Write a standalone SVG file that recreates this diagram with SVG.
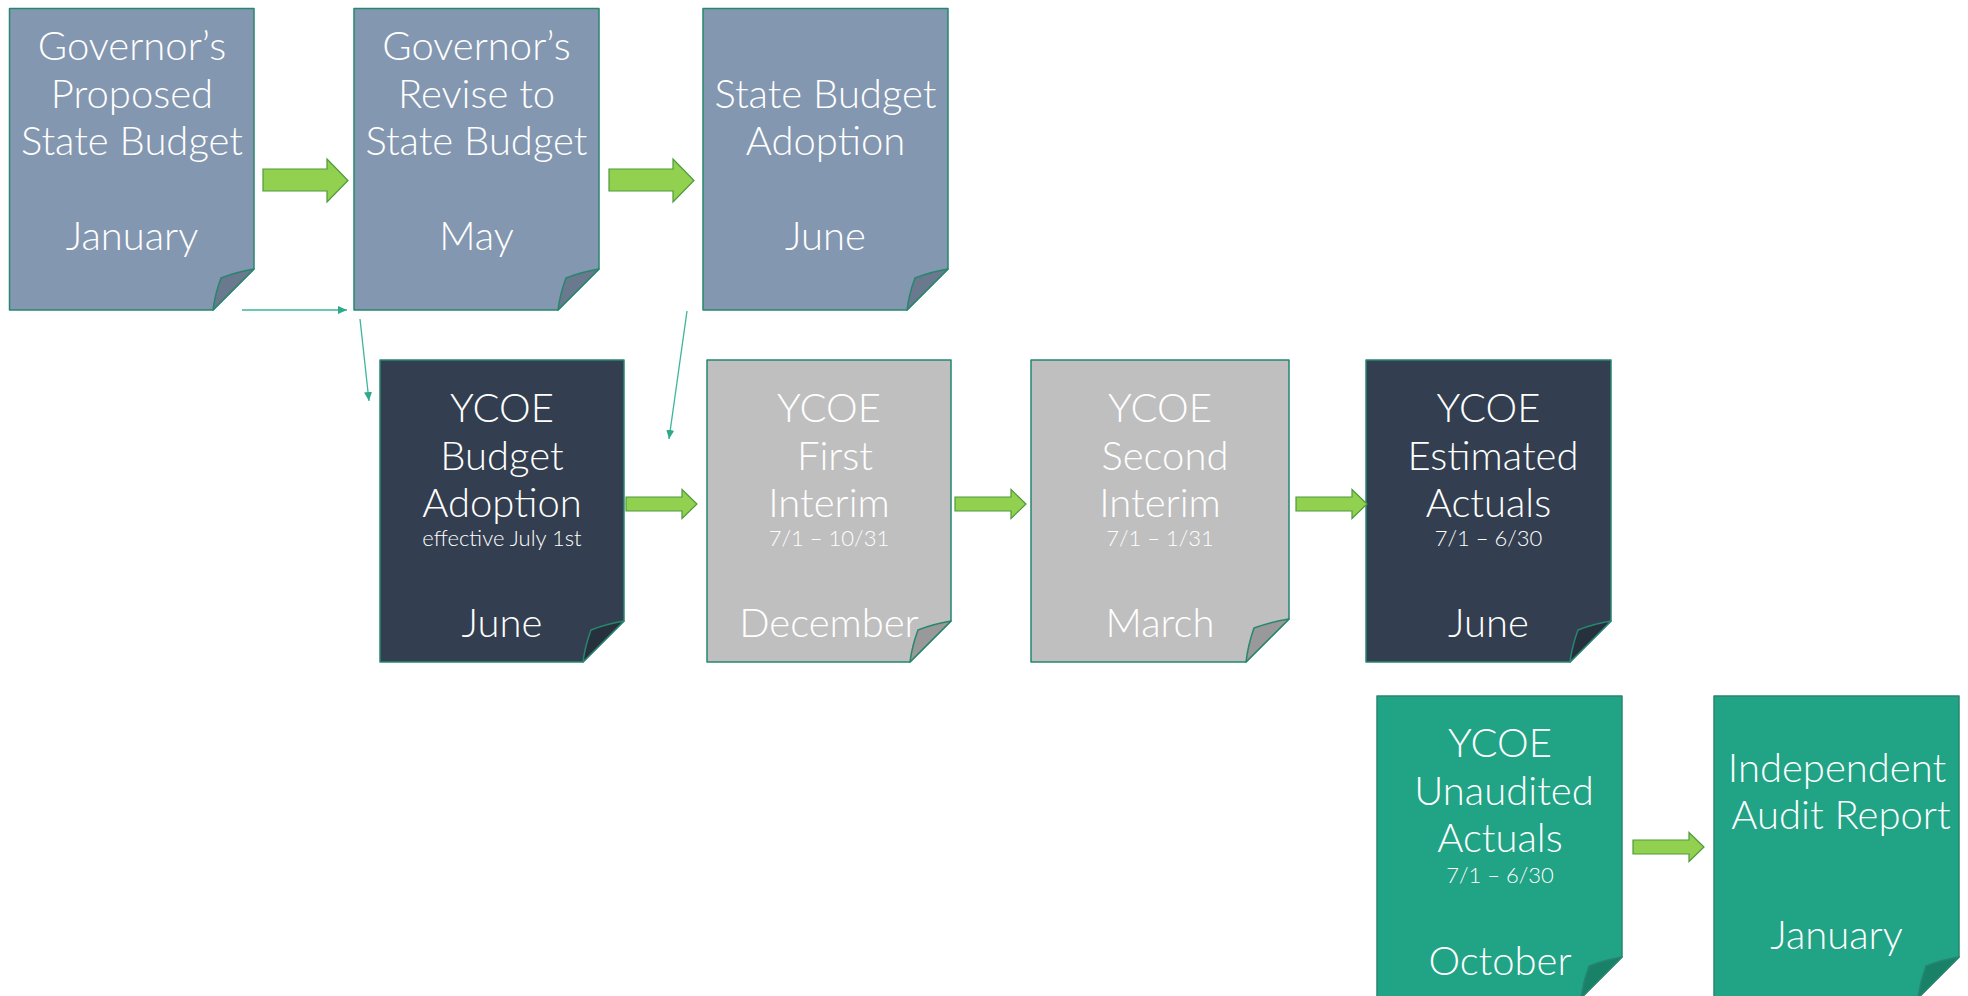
<svg xmlns="http://www.w3.org/2000/svg" width="1968" height="996" viewBox="0 0 1968 996">
<style>
  .t{font-family:Lato,"Liberation Sans",sans-serif;font-weight:300;font-size:40px;fill:#ffffff;text-anchor:middle}
  .s{font-family:Lato,"Liberation Sans",sans-serif;font-weight:300;font-size:22px;fill:#ffffff;text-anchor:middle}
  .edge{stroke:#26866E;stroke-width:1.5;stroke-linejoin:round}
  .gov{fill:#8497B0}.govf{fill:#6A798D}
  .dark{fill:#333F50}.darkf{fill:#27303D}
  .gray{fill:#BFBFBF}.grayf{fill:#999999}
  .teal{fill:#21A385}.tealf{fill:#1A8169}
  .blk{fill:#92D050;stroke:#4E9A3C;stroke-width:1.2;stroke-linejoin:miter}
  .thin{fill:none;stroke:#3DB597;stroke-width:1.3}
</style>
<defs>
  <marker id="ah" markerUnits="userSpaceOnUse" markerWidth="10" markerHeight="8" refX="9" refY="4" orient="auto">
    <path d="M0,0 L9,4 L0,8 Z" fill="#2EAA8A"/>
  </marker>
</defs>

<g id="n1">
  <path class="gov edge" d="M9.5,8.5 H254 V269 L213,310 H9.5 Z"/>
  <path class="govf edge" d="M254,269 Q236,272 221,278 Q215,294 213,310 Z"/>
  <text class="t" x="132" y="60">Governor’s</text>
  <text class="t" x="132" y="107.5">Proposed</text>
  <text class="t" x="132" y="155">State Budget</text>
  <text class="t" x="132" y="250">January</text>
</g>
<g id="n2">
  <path class="gov edge" d="M354,8.5 H599 V269 L558,310 H354 Z"/>
  <path class="govf edge" d="M599,269 Q581,272 566,278 Q560,294 558,310 Z"/>
  <text class="t" x="476.5" y="60">Governor’s</text>
  <text class="t" x="476.5" y="107.5">Revise to</text>
  <text class="t" x="476.5" y="155">State Budget</text>
  <text class="t" x="476.5" y="250">May</text>
</g>
<g id="n3">
  <path class="gov edge" d="M703,8.5 H948 V269 L907,310 H703 Z"/>
  <path class="govf edge" d="M948,269 Q930,272 915,278 Q909,294 907,310 Z"/>
  <text class="t" x="825.5" y="107.5">State Budget</text>
  <text class="t" x="825.5" y="155">Adoption</text>
  <text class="t" x="825.5" y="250">June</text>
</g>

<g id="n4">
  <path class="dark edge" d="M380,360 H624 V621 L583,662 H380 Z"/>
  <path class="darkf edge" d="M624,621 Q606,624 591,630 Q585,646 583,662 Z"/>
  <text class="t" x="502" y="422">YCOE</text>
  <text class="t" x="502" y="469.5">Budget</text>
  <text class="t" x="502" y="517">Adoption</text>
  <text class="s" x="502" y="546">effective July 1st</text>
  <text class="t" x="502" y="637">June</text>
</g>
<g id="n5">
  <path class="gray edge" d="M707,360 H951 V621 L910,662 H707 Z"/>
  <path class="grayf edge" d="M951,621 Q933,624 918,630 Q912,646 910,662 Z"/>
  <text class="t" x="829" y="422">YCOE</text>
  <text class="t" x="835" y="469.5">First</text>
  <text class="t" x="829" y="517">Interim</text>
  <text class="s" x="829" y="546">7/1 – 10/31</text>
  <text class="t" x="829" y="637">December</text>
</g>
<g id="n6">
  <path class="gray edge" d="M1031,360 H1289 V619 L1246,662 H1031 Z"/>
  <path class="grayf edge" d="M1289,619 Q1270,622 1254,628 Q1248,645 1246,662 Z"/>
  <text class="t" x="1160" y="422">YCOE</text>
  <text class="t" x="1165" y="469.5">Second</text>
  <text class="t" x="1160" y="517">Interim</text>
  <text class="s" x="1160" y="546">7/1 – 1/31</text>
  <text class="t" x="1160" y="637">March</text>
</g>
<g id="n7">
  <path class="dark edge" d="M1366,360 H1611 V621 L1570,662 H1366 Z"/>
  <path class="darkf edge" d="M1611,621 Q1593,624 1578,630 Q1572,646 1570,662 Z"/>
  <text class="t" x="1488.5" y="422">YCOE</text>
  <text class="t" x="1493" y="469.5">Estimated</text>
  <text class="t" x="1488.5" y="517">Actuals</text>
  <text class="s" x="1488.5" y="546">7/1 – 6/30</text>
  <text class="t" x="1488.5" y="637">June</text>
</g>

<g id="n8">
  <path class="teal edge" d="M1377,696 H1622 V957 L1581,998 H1377 Z"/>
  <path class="tealf edge" d="M1622,957 Q1604,960 1589,966 Q1583,982 1581,998 Z"/>
  <text class="t" x="1500" y="757">YCOE</text>
  <text class="t" x="1504" y="804.5">Unaudited</text>
  <text class="t" x="1500" y="852">Actuals</text>
  <text class="s" x="1500" y="883">7/1 – 6/30</text>
  <text class="t" x="1500" y="975">October</text>
</g>
<g id="n9">
  <path class="teal edge" d="M1714,696 H1959 V957 L1918,998 H1714 Z"/>
  <path class="tealf edge" d="M1959,957 Q1941,960 1926,966 Q1920,982 1918,998 Z"/>
  <text class="t" x="1837" y="782">Independent</text>
  <text class="t" x="1841" y="829">Audit Report</text>
  <text class="t" x="1836.5" y="949">January</text>
</g>

<g id="connectors">
  <path class="blk" d="M263,169 H327 V159 L348,180.5 L327,202 V191 H263 Z"/>
  <path class="blk" d="M609,169 H673 V159 L694,180.5 L673,202 V191 H609 Z"/>
  <path class="blk" d="M626,497 H682 V489.5 L697,504 L682,518.5 V511 H626 Z"/>
  <path class="blk" d="M955,497 H1011 V489.5 L1026,504 L1011,518.5 V511 H955 Z"/>
  <path class="blk" d="M1296,497 H1352 V489.5 L1367,504 L1352,518.5 V511 H1296 Z"/>
  <path class="blk" d="M1633,840 H1689 V832.5 L1704,847 L1689,861.5 V854 H1633 Z"/>
  <line class="thin" x1="242" y1="310" x2="347" y2="310" marker-end="url(#ah)"/>
  <line class="thin" x1="360" y1="319" x2="369" y2="401" marker-end="url(#ah)"/>
  <line class="thin" x1="687" y1="311" x2="669" y2="439" marker-end="url(#ah)"/>
</g>
</svg>
